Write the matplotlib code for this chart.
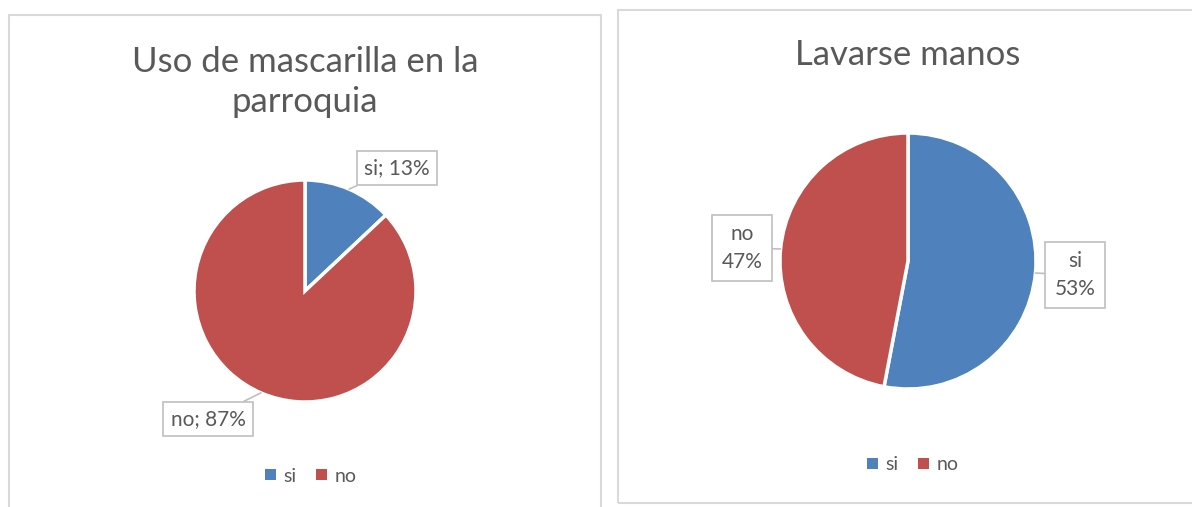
import numpy as np
import matplotlib
matplotlib.use("Agg")
import matplotlib.pyplot as plt
from matplotlib.patches import Rectangle, Patch

# Data
labels = ["si", "no"]
mascarilla = [13, 87]
lavarse = [53, 47]
colors = ["#4F81BD", "#C0504D"]

title_left = "Uso de mascarilla en la\nparroquia"
title_right = "Lavarse manos"

W, H = 1192, 507
TXT = "#595959"
EDGE = "#D9D9D9"
plt.rcParams["font.family"] = ["Lato", "DejaVu Sans"]

fig = plt.figure(figsize=(W / 100, H / 100), dpi=100)


def fx(px):
    return px / W


def fy(py):
    return 1 - py / H


# panel frames
for x0, y0, x1, y1 in [(9, 15, 601, 520), (618, 10, 1200, 503)]:
    fig.add_artist(Rectangle((fx(x0), fy(y1)), fx(x1 - x0), (y1 - y0) / H,
                             transform=fig.transFigure, fill=False,
                             edgecolor=EDGE, linewidth=1.5))


def pie_axes(cx, cy, r):
    ax = fig.add_axes([fx(cx - r), fy(cy + r), 2 * r / W, 2 * r / H])
    ax.axis("off")
    return ax


def fix_limits(ax):
    ax.set_xlim(-1, 1)
    ax.set_ylim(-1, 1)
    ax.set_aspect("equal")


def edge_point(w, frac):
    # point on wedge rim at fraction along its arc
    ang = np.deg2rad(w.theta1 + frac * (w.theta2 - w.theta1))
    return np.cos(ang), np.sin(ang)


def callout(ax, text, anchor, box, r, pad=0.35):
    bx = box[0] / r
    by = -box[1] / r
    ax.annotate(text, xy=anchor, xytext=(bx, by), ha="center", va="center",
                fontsize=15, color=TXT, linespacing=1.45,
                bbox=dict(boxstyle=f"square,pad={pad}", fc="white",
                          ec="#BFBFBF", lw=1.2),
                arrowprops=dict(arrowstyle="-", color="#BFBFBF", lw=1.2,
                                shrinkA=0, shrinkB=0),
                annotation_clip=False)


# left pie
r1 = 111
ax1 = pie_axes(305, 291, r1)
w1, _ = ax1.pie(mascarilla, colors=colors, startangle=90, counterclock=False,
                radius=1, wedgeprops=dict(edgecolor="white", linewidth=2.5))
fix_limits(ax1)
callout(ax1, f"{labels[0]}; {mascarilla[0]}%", edge_point(w1[0], 0.5),
        (397 - 305, 168 - 291), r1)
callout(ax1, f"{labels[1]}; {mascarilla[1]}%", edge_point(w1[1], 0.5),
        (208 - 305, 419 - 291), r1)
fig.text(fx(305), fy(82), title_left, ha="center", va="center",
         fontsize=25, color=TXT, linespacing=1.3)

# right pie
r2 = 128
ax2 = pie_axes(908, 261, r2)
w2, _ = ax2.pie(lavarse, colors=colors, startangle=90, counterclock=False,
                radius=1, wedgeprops=dict(edgecolor="white", linewidth=2.5))
fix_limits(ax2)
callout(ax2, f"{labels[0]}\n{lavarse[0]}%", edge_point(w2[0], 0.5),
        (1075 - 908, 275 - 261), r2, pad=0.45)
callout(ax2, f"{labels[1]}\n{lavarse[1]}%", edge_point(w2[1], 0.5),
        (742 - 908, 248 - 261), r2, pad=0.45)
fig.text(fx(908), fy(55), title_right, ha="center", va="center",
         fontsize=25, color=TXT)

# legends
handles = [Patch(facecolor=c, label=l) for c, l in zip(colors, labels)]
for cx, cy in [(311, 476), (913, 465)]:
    fig.legend(handles=handles, loc="center", bbox_to_anchor=(fx(cx), fy(cy)),
               ncol=2, frameon=False, fontsize=14, labelcolor=TXT,
               handlelength=0.55, handleheight=0.55, handletextpad=0.4,
               columnspacing=1.0)

fig.savefig("out.png", dpi=100)
